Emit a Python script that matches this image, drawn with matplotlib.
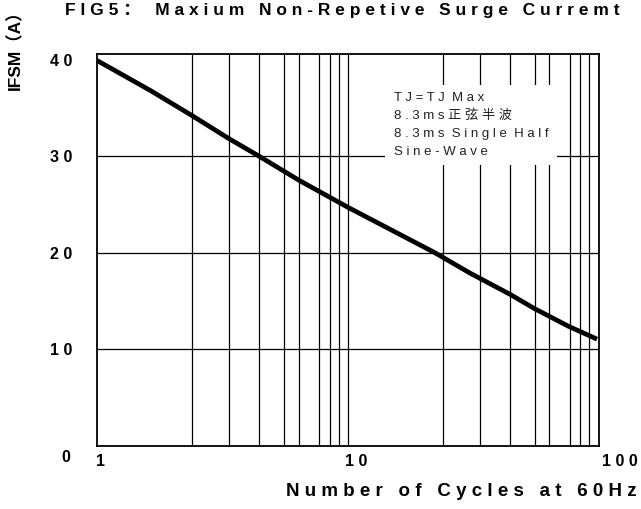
import matplotlib
matplotlib.use("Agg")
import matplotlib.pyplot as plt
from matplotlib.patches import Rectangle

# ---- data ----
cycles = [1.0, 1.63, 2.39, 3.36, 4.42, 6.38, 10.0, 22.2, 30.6, 44.2, 55.5, 75.5, 98.2]
ifsm = [39.9, 36.8, 34.2, 31.8, 30.0, 27.5, 24.7, 20.0, 17.9, 15.7, 14.2, 12.4, 11.06]

grid_x = [2.39, 3.36, 4.4, 5.56, 6.4, 7.66, 8.5, 9.2, 10,
          23.9, 33.6, 44.2, 55.5, 63.5, 76.5, 84.1, 91.3]
grid_y = [10, 20, 30]
ytick_vals = [10, 20, 30, 40]
xtick_vals = [1, 10, 100]

title = "FIG5： Maxium Non-Repetive Surge Curremt"
xlabel = "Number of Cycles at 60Hz"
ylabel = "IFSM（A）"
note_lines = ["TJ=TJ Max", "8.3ms正弦半波", "8.3ms Single Half", "Sine-Wave"]

FAM = ["Liberation Sans", "Noto Sans CJK SC", "DejaVu Sans"]
plt.rcParams["font.family"] = FAM


def spaced(s, word_gap="  "):
    words = s.split(" ")
    return word_gap.join(" ".join(list(w)) for w in words)


fig = plt.figure(figsize=(6.41, 5.09), dpi=100)
W, H = 641, 509
L, R, T, B = 97, 599, 54, 446
PT = 0.72  # points per pixel at 100 dpi
ax = fig.add_axes([L / W, 1 - B / H, (R - L) / W, (B - T) / H])
ax.set_xscale("log")
ax.set_xlim(1, 100)
ax.set_ylim(0, 40.57)

# grid
ax.vlines(grid_x, 0, 40.57, colors="black", lw=0.9, zorder=1)
ax.hlines(grid_y, 1, 100, colors="black", lw=0.9, zorder=1)

# curve
ax.plot(cycles, ifsm, color="black", lw=3.4, solid_capstyle="butt",
        solid_joinstyle="round", zorder=4)

# note box (white background interrupting grid)
box = Rectangle((385 / W, 1 - 165 / H), (557 - 385) / W, (165 - 85) / H,
                transform=fig.transFigure, facecolor="white", edgecolor="none", zorder=2)
fig.patches.append(box)
for i, line in enumerate(note_lines):
    txt = spaced(line, "  ")
    fig.text(394 / W, 1 - (98 + i * 18) / H, txt, fontsize=9.5, color="#222222",
             va="center", ha="left", family=FAM, zorder=5)

for s in ax.spines.values():
    s.set_linewidth(1.3)
    s.set_zorder(3)

ax.tick_params(length=0)
ax.minorticks_off()
ax.set_yticks(ytick_vals)
ax.set_yticklabels([spaced(str(v)) for v in ytick_vals], fontsize=11.5, fontweight="bold")
ax.tick_params(axis="y", pad=18)
ax.set_xticks(xtick_vals)
ax.set_xticklabels([])

x_offsets_px = [-1, -3, 3]
for v, dx in zip(xtick_vals, x_offsets_px):
    ax.annotate(spaced(str(v)), xy=(v, 0), xytext=(dx * PT, -15 * PT),
                textcoords="offset points", ha="left", va="center",
                fontsize=11.5, fontweight="bold", annotation_clip=False)
ax.annotate("0", xy=(1, 0), xytext=(-27 * PT, -11 * PT), textcoords="offset points",
            ha="right", va="center", fontsize=11.5, fontweight="bold",
            annotation_clip=False)

fig.text(65 / W, 1 - 10 / H, spaced(title, "   "), fontsize=12.5, fontweight="bold",
         ha="left", va="center")
fig.text(637 / W, 1 - 492 / H, spaced(xlabel, "   "), fontsize=13.5, fontweight="bold",
         ha="right", va="center")
fig.text(15 / W, 1 - 90 / H, ylabel, fontsize=12.5, fontweight="bold", rotation=90,
         ha="center", va="bottom")

fig.savefig("out.png", dpi=100)
